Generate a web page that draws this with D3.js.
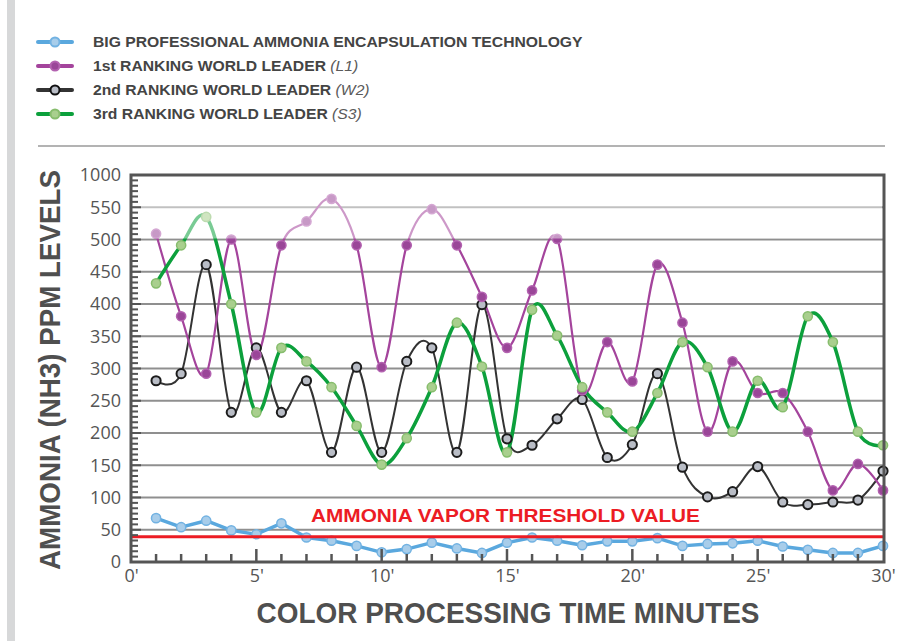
<!DOCTYPE html>
<html><head><meta charset="utf-8">
<script src="https://cdn.jsdelivr.net/npm/d3@7/dist/d3.min.js"></script>
<style>body{margin:0;background:#fff}svg{display:block}</style>
</head><body>
<svg id="c" width="908" height="641"></svg>
<script>
// ---- data ----
const minutes = d3.range(1, 31);
const bigTech = [68,54,64,49,43,60,38,33,25,15,20,30,21,14,30,38,33,26,32,32,37,25,28,29,33,24,19,14,14,25];
const leaderL1 = [509,381,292,500,321,491,528,563,491,302,491,547,491,411,332,421,501,266,341,280,461,371,202,311,262,262,202,111,152,111];
const leaderW2 = [281,292,461,232,332,232,281,170,302,170,311,332,170,399,191,181,222,252,162,182,292,147,101,109,148,93,89,93,96,141];
const leaderS3 = [432,491,535,400,232,332,311,271,211,151,192,271,371,303,170,391,351,271,232,202,262,341,302,202,281,240,381,341,202,181];
const thresholdValue = 39;
const yTickValues = [0,50,100,150,200,250,300,350,400,450,500,550,600];
const yTickLabels = ["0","50","100","150","200","250","300","350","400","450","500","550","1000"];
const xTickValues = [0,5,10,15,20,25,30];
const xTickLabels = ["0'","5'","10'","15'","20'","25'","30'"];
const legendNames = ["BIG PROFESSIONAL AMMONIA ENCAPSULATION TECHNOLOGY","1st RANKING WORLD LEADER","2nd RANKING WORLD LEADER","3rd RANKING WORLD LEADER"];
const legendTags = ["","(L1)","(W2)","(S3)"];

const svg = d3.select("#c");
const x = d3.scaleLinear().domain([0,30]).range([131,883]);
const y = d3.scaleLinear().domain([0,600]).range([562,175]);

const series = [
  {vals: bigTech, stroke:"#5aa8de", width:3.5, mFill:"#a8cdea", mStroke:"#72b2e2", curve:d3.curveLinear},
  {vals: leaderW2, stroke:"#333333", width:2, mFill:"#b9bdc6", mStroke:"#1c1c1c", curve:d3.curveCardinal.tension(0)},
  {vals: leaderL1, stroke:"#a4449c", width:2.2, mFill:"#9a4698", mStroke:"#b362b0", curve:d3.curveCardinal.tension(0)},
  {vals: leaderS3, stroke:"#0ca03c", width:3.5, mFill:"#a9cf8e", mStroke:"#87bd6d", curve:d3.curveCardinal.tension(0)}
];
const legendOrder = [0,2,1,3];

// left gray bar
svg.append("rect").attr("x",7).attr("y",0).attr("width",8).attr("height",641).attr("fill","#d7d8d9");

// legend
const lg = svg.append("g");
legendOrder.forEach((si,i)=>{
  const s = series[si];
  const cy = 42 + i*24;
  lg.append("line").attr("x1",38).attr("x2",72).attr("y1",cy).attr("y2",cy)
    .attr("stroke",s.stroke).attr("stroke-width",4).attr("stroke-linecap","round");
  lg.append("circle").attr("cx",55).attr("cy",cy).attr("r",4.5)
    .attr("fill",s.mFill).attr("stroke", si===1? "#111": s.mStroke).attr("stroke-width",2);
});
const lt = svg.append("g").attr("font-family","Liberation Sans, Arial, sans-serif").attr("fill","#444");
legendNames.forEach((nm,i)=>{
  const t = lt.append("text").attr("x",93).attr("y",47+i*24).attr("font-size",14.5).attr("font-weight","bold").text(nm);
  if (legendTags[i]) t.append("tspan").attr("font-weight","normal").attr("font-style","italic").attr("fill","#5a5a5a").text(" "+legendTags[i]);
});
// fit first legend line width to 490
const w0 = lt.select("text").node().getComputedTextLength();
const k = 490 / w0;
lt.attr("transform",`translate(${93*(1-k)},0) scale(${k},1)`);

// separator
svg.append("line").attr("x1",38).attr("x2",885).attr("y1",146).attr("y2",146).attr("stroke","#9a9a9a").attr("stroke-width",1.5);

// gridlines
const grid = svg.append("g");
yTickValues.filter(v=>v>0 && v<600).forEach(v=>{
  grid.append("line").attr("x1",131).attr("x2",883).attr("y1",y(v)).attr("y2",y(v))
    .attr("stroke","#8f8f8f").attr("stroke-width",1.8);
});

// series lines and markers
series.forEach(s=>{
  const line = d3.line().x((d,i)=>x(minutes[i])).y(d=>y(d)).curve(s.curve);
  svg.append("path").attr("d",line(s.vals)).attr("fill","none").attr("stroke",s.stroke).attr("stroke-width",s.width).attr("stroke-linejoin","round");
});
series.forEach((s,si)=>{
  svg.append("g").selectAll("circle").data(s.vals).join("circle")
    .attr("cx",(d,i)=>x(minutes[i])).attr("cy",d=>y(d)).attr("r",4.6)
    .attr("fill",s.mFill).attr("stroke",s.mStroke).attr("stroke-width", si===1?2:1.5);
});

// light overlay above 500
svg.append("rect").attr("x",132).attr("y",176).attr("width",750).attr("height",y(500)-1-176)
  .attr("fill","#fff").attr("opacity",0.45);

// threshold
svg.append("line").attr("x1",131).attr("x2",884).attr("y1",y(thresholdValue)).attr("y2",y(thresholdValue))
  .attr("stroke","#ec1c24").attr("stroke-width",3);
svg.append("text").attr("x",311).attr("y",522).attr("font-family","Liberation Sans, Arial, sans-serif")
  .attr("font-weight","bold").attr("font-size",18).attr("fill","#ec1c24")
  .attr("textLength",389).attr("lengthAdjust","spacingAndGlyphs").text("AMMONIA VAPOR THRESHOLD VALUE");

// frame
svg.append("rect").attr("x",131).attr("y",175).attr("width",753).attr("height",387)
  .attr("fill","none").attr("stroke","#555").attr("stroke-width",3);

// y axis (minor ticks + labels)
const yAxis = d3.axisLeft(y).tickValues(yTickValues).tickFormat((d,i)=>yTickLabels[i]).tickSize(0).tickPadding(10);
const ya = svg.append("g").attr("transform","translate(131,0)").call(yAxis);
ya.select(".domain").remove();
ya.selectAll("text").attr("font-family","Open Sans, sans-serif").attr("font-size",18).attr("fill","#555");
const minorY = d3.range(0, 600, 50/6);
svg.append("g").selectAll("line").data(minorY).join("line")
  .attr("x1",131).attr("x2",d=> (Math.abs(d%50)<0.01 ? 141 : 138)).attr("y1",d=>y(d)).attr("y2",d=>y(d))
  .attr("stroke","#555").attr("stroke-width",2);

// x axis
const xAxis = d3.axisBottom(x).tickValues(xTickValues).tickFormat((d,i)=>xTickLabels[i]).tickSize(0).tickPadding(6);
const xa = svg.append("g").attr("transform","translate(0,563)").call(xAxis);
xa.select(".domain").remove();
xa.selectAll("text").attr("font-family","Open Sans, sans-serif").attr("font-size",18).attr("fill","#555");
svg.append("g").selectAll("line").data(d3.range(1,30)).join("line")
  .attr("x1",d=>x(d)).attr("x2",d=>x(d)).attr("y1",561).attr("y2",d=> d%5===0 ? 549 : 554)
  .attr("stroke","#555").attr("stroke-width",2.5);

// axis titles
svg.append("text").attr("transform","translate(60,370) rotate(-90)").attr("text-anchor","middle")
  .attr("font-family","Liberation Sans, Arial, sans-serif").attr("font-weight","bold").attr("font-size",30).attr("fill","#4f4f4f")
  .attr("textLength",400).attr("lengthAdjust","spacingAndGlyphs").text("AMMONIA (NH3) PPM LEVELS");
svg.append("text").attr("x",508).attr("y",623).attr("text-anchor","middle")
  .attr("font-family","Liberation Sans, Arial, sans-serif").attr("font-weight","bold").attr("font-size",30).attr("fill","#4f4f4f")
  .attr("textLength",503).attr("lengthAdjust","spacingAndGlyphs").text("COLOR PROCESSING TIME MINUTES");
</script>
</body></html>
